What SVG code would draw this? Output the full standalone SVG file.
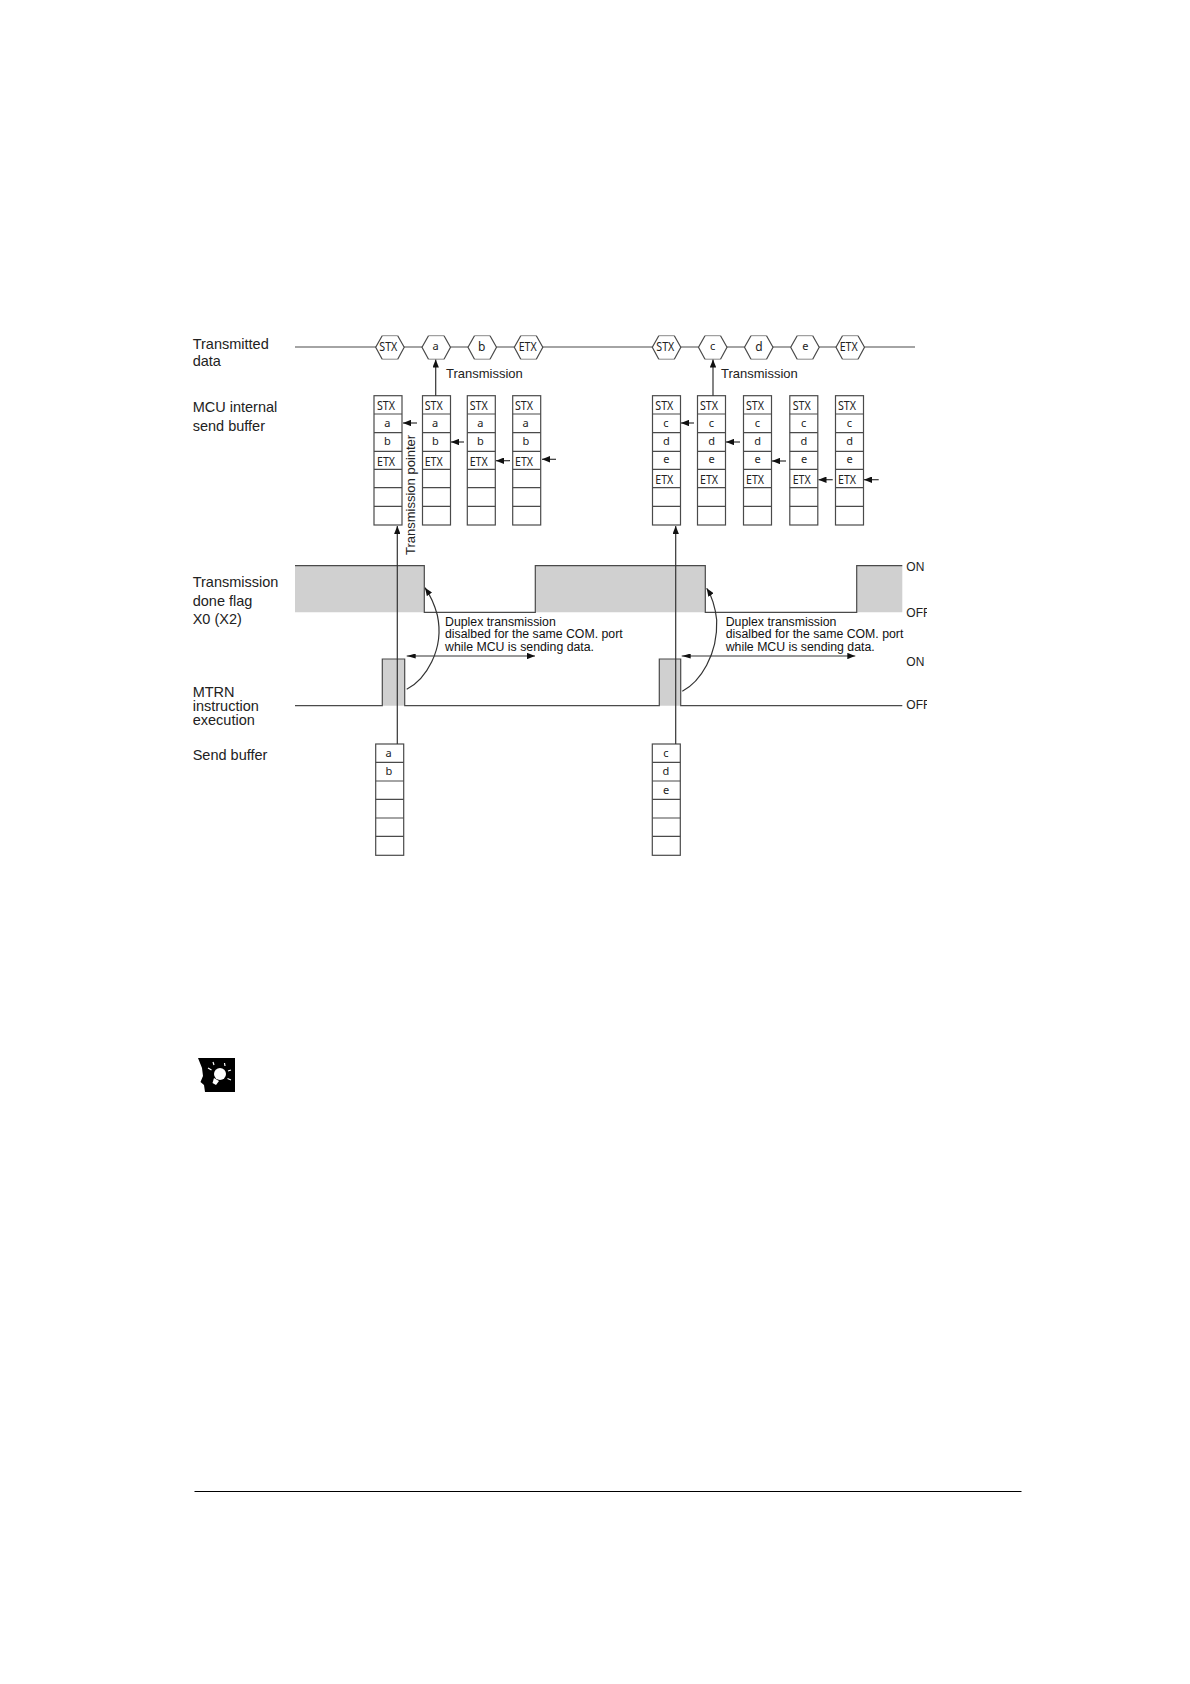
<svg xmlns="http://www.w3.org/2000/svg" width="1190" height="1684" viewBox="0 0 1190 1684">
<style>
.ln{fill:none;stroke:#4a4a4a;stroke-width:1.2}
.fill{fill:#d0d0d0;stroke:none}
.lb{font-family:"Liberation Sans",Arial,sans-serif;font-size:14.5px;fill:#222}
.md{font-family:"Liberation Sans",Arial,sans-serif;font-size:13px;fill:#222}
.sm{font-family:"Liberation Sans",Arial,sans-serif;font-size:12.3px;fill:#111}
.st{font-family:"Liberation Sans",Arial,sans-serif;font-size:12px;fill:#222}
.c{font-family:"Noto Sans",sans-serif;font-size:11px;fill:#222;text-anchor:middle}
.u{font-size:12px}
.ptr{fill:none;stroke:#333;stroke-width:1.2;marker-end:url(#ah)}
</style>
<defs>
<marker id="ah" markerUnits="userSpaceOnUse" viewBox="0 0 8 6.400" refX="8" refY="3.200" markerWidth="8" markerHeight="6.400" orient="auto"><path d="M0 0L8 3.200L0 6.400z" fill="#111"/></marker>
<marker id="as" markerUnits="userSpaceOnUse" viewBox="0 0 9 5" refX="0" refY="2.500" markerWidth="9" markerHeight="5" orient="auto"><path d="M0 2.500L9 0V5z" fill="#111"/></marker>
<g id="buf7"><rect class="ln" x="0" y="0" width="28" height="129.3"/><path class="ln" d="M0 18.3H28M0 37H28M0 55.6H28M0 73.6H28M0 92H28M0 110.6H28"/></g>
<g id="buf6"><rect class="ln" x="0" y="0" width="28" height="111.3"/><path class="ln" d="M0 18.3H28M0 37H28M0 55.3H28M0 74H28M0 92.3H28"/></g>
<g id="hex"><path d="M6.500 0H22M6.500 23.500H22" fill="none" stroke="#8a8a8a" stroke-width="1"/><path class="ln" d="M6.500 0L0 11.500L6.500 23.500M22 0L28.500 11.500L22 23.500"/></g>
<clipPath id="clipoff"><rect x="900" y="600" width="27" height="120"/></clipPath>
</defs>
<rect width="1190" height="1684" fill="#fff"/>

<g id="labels">
<text class="lb" x="192.7" y="349.3">Transmitted</text>
<text class="lb" x="192.7" y="366">data</text>
<text class="lb" x="192.7" y="412.3">MCU internal</text>
<text class="lb" x="192.7" y="430.7">send buffer</text>
<text class="lb" x="192.7" y="586.7">Transmission</text>
<text class="lb" x="192.7" y="606">done flag</text>
<text class="lb" x="192.7" y="624">X0 (X2)</text>
<text class="lb" x="192.7" y="697">MTRN</text>
<text class="lb" x="192.7" y="711">instruction</text>
<text class="lb" x="192.7" y="725">execution</text>
<text class="lb" x="192.7" y="760">Send buffer</text>
</g>

<g id="waveforms">
<path class="fill" d="M295 565.7H424.3V612.3H295Z"/>
<path class="fill" d="M535.3 565.7H705.3V612.3H535.3Z"/>
<path class="fill" d="M856.7 565.7H902.3V612.3H856.7Z"/>
<path class="fill" d="M382.3 659H404.7V705.7H382.3Z"/>
<path class="fill" d="M659.3 659H680.7V705.7H659.3Z"/>
<path class="ln" d="M295 565.7H424.3V612.3H535.3V565.7H705.3V612.3H856.7V565.7H902.3"/>
<path class="ln" d="M295 705.7H382.3V659H404.7V705.7H659.3V659H680.7V705.7H902.3"/>
<text class="st" x="906.3" y="570.7">ON</text>
<text class="st" x="906.3" y="616.7" clip-path="url(#clipoff)">OFF</text>
<text class="st" x="906.3" y="665.7">ON</text>
<text class="st" x="906.3" y="709.3" clip-path="url(#clipoff)">OFF</text>
</g>

<g id="hex-stx1"><use href="#hex" x="375.7" y="335.7"/><text class="c u" x="388.3" y="351" textLength="18" lengthAdjust="spacingAndGlyphs">STX</text></g>
<g id="hex-a"><use href="#hex" x="422" y="335.7"/><text class="c" x="435.7" y="349.5">a</text></g>
<g id="hex-b"><use href="#hex" x="468" y="335.7"/><text class="c u" x="481.7" y="351">b</text></g>
<g id="hex-etx1"><use href="#hex" x="514.3" y="335.7"/><text class="c u" x="527.7" y="351" textLength="18" lengthAdjust="spacingAndGlyphs">ETX</text></g>
<g id="hex-stx2"><use href="#hex" x="652.3" y="335.7"/><text class="c u" x="665.3" y="351" textLength="18" lengthAdjust="spacingAndGlyphs">STX</text></g>
<g id="hex-c"><use href="#hex" x="698.5" y="335.7"/><text class="c" x="712.7" y="349.5">c</text></g>
<g id="hex-d"><use href="#hex" x="744.5" y="335.7"/><text class="c u" x="759" y="351">d</text></g>
<g id="hex-e"><use href="#hex" x="790.7" y="335.7"/><text class="c" x="805.3" y="349.5">e</text></g>
<g id="hex-etx2"><use href="#hex" x="836" y="335.7"/><text class="c u" x="848.7" y="351" textLength="18" lengthAdjust="spacingAndGlyphs">ETX</text></g>

<g id="buffer-1"><use href="#buf7" x="374" y="395.7"/><text class="c u" x="386" y="410" textLength="18" lengthAdjust="spacingAndGlyphs">STX</text><text class="c" x="387.3" y="426.7">a</text><text class="c" x="387.3" y="445">b</text><text class="c u" x="386" y="465.5" textLength="18" lengthAdjust="spacingAndGlyphs">ETX</text></g>
<g id="buffer-2"><use href="#buf7" x="422.5" y="395.7"/><text class="c u" x="433.7" y="410" textLength="18" lengthAdjust="spacingAndGlyphs">STX</text><text class="c" x="435" y="426.7">a</text><text class="c" x="435.5" y="445">b</text><text class="c u" x="433.7" y="465.5" textLength="18" lengthAdjust="spacingAndGlyphs">ETX</text></g>
<g id="buffer-3"><use href="#buf7" x="467.3" y="395.7"/><text class="c u" x="478.7" y="410" textLength="18" lengthAdjust="spacingAndGlyphs">STX</text><text class="c" x="480.3" y="426.7">a</text><text class="c" x="480.3" y="445">b</text><text class="c u" x="478.7" y="465.5" textLength="18" lengthAdjust="spacingAndGlyphs">ETX</text></g>
<g id="buffer-4"><use href="#buf7" x="512.7" y="395.7"/><text class="c u" x="524" y="410" textLength="18" lengthAdjust="spacingAndGlyphs">STX</text><text class="c" x="525.7" y="426.7">a</text><text class="c" x="526" y="445">b</text><text class="c u" x="524" y="465.5" textLength="18" lengthAdjust="spacingAndGlyphs">ETX</text></g>

<g id="buffer-5"><use href="#buf7" x="652.5" y="395.7"/><text class="c u" x="664.3" y="410" textLength="18" lengthAdjust="spacingAndGlyphs">STX</text><text class="c" x="666" y="426.7">c</text><text class="c" x="666.5" y="445">d</text><text class="c" x="666.3" y="463.3">e</text><text class="c u" x="664.3" y="484" textLength="18" lengthAdjust="spacingAndGlyphs">ETX</text></g>
<g id="buffer-6"><use href="#buf7" x="697.5" y="395.7"/><text class="c u" x="709" y="410" textLength="18" lengthAdjust="spacingAndGlyphs">STX</text><text class="c" x="711.3" y="426.7">c</text><text class="c" x="711.7" y="445">d</text><text class="c" x="711.7" y="463.3">e</text><text class="c u" x="709" y="484" textLength="18" lengthAdjust="spacingAndGlyphs">ETX</text></g>
<g id="buffer-7"><use href="#buf7" x="743.5" y="395.7"/><text class="c u" x="755" y="410" textLength="18" lengthAdjust="spacingAndGlyphs">STX</text><text class="c" x="757.3" y="426.7">c</text><text class="c" x="757.7" y="445">d</text><text class="c" x="757.7" y="463.3">e</text><text class="c u" x="755" y="484" textLength="18" lengthAdjust="spacingAndGlyphs">ETX</text></g>
<g id="buffer-8"><use href="#buf7" x="789.8" y="395.7"/><text class="c u" x="801.7" y="410" textLength="18" lengthAdjust="spacingAndGlyphs">STX</text><text class="c" x="803.7" y="426.7">c</text><text class="c" x="804" y="445">d</text><text class="c" x="804" y="463.3">e</text><text class="c u" x="801.7" y="484" textLength="18" lengthAdjust="spacingAndGlyphs">ETX</text></g>
<g id="buffer-9"><use href="#buf7" x="835.5" y="395.7"/><text class="c u" x="847" y="410" textLength="18" lengthAdjust="spacingAndGlyphs">STX</text><text class="c" x="849.3" y="426.7">c</text><text class="c" x="849.7" y="445">d</text><text class="c" x="849.7" y="463.3">e</text><text class="c u" x="847" y="484" textLength="18" lengthAdjust="spacingAndGlyphs">ETX</text></g>

<g id="send-buffer-1"><use href="#buf6" x="375.7" y="744"/><text class="c" x="388.7" y="757">a</text><text class="c" x="389" y="775">b</text></g>
<g id="send-buffer-2"><use href="#buf6" x="652.3" y="744"/><text class="c" x="666" y="757">c</text><text class="c" x="666" y="775">d</text><text class="c" x="666" y="794">e</text></g>

<g id="connectors">
<path class="ln" d="M295 347H376M404 347H422M450.500 347H468M496.500 347H514.300M542.800 347H652.300M680.800 347H698.500M727 347H744.500M773 347H790.700M819.200 347H836M864.500 347H915"/>
<path class="ptr" d="M435.700 395.700V359.500"/>
<path class="ptr" d="M713 395.700V359.500"/>
<path class="ptr" d="M397.300 744V526"/>
<path class="ptr" d="M675.700 744V526"/>
<path class="ptr" d="M417 423H403"/>
<path class="ptr" d="M464 442H451"/>
<path class="ptr" d="M510 460.700H496"/>
<path class="ptr" d="M556 459.300H542"/>
<path class="ptr" d="M694 423H681"/>
<path class="ptr" d="M740 442H726"/>
<path class="ptr" d="M786 461H772"/>
<path class="ptr" d="M832.700 479.700H818.500"/>
<path class="ptr" d="M878.700 479.700H864"/>
<path class="ptr" style="marker-start:url(#as)" d="M406.700 656H535"/>
<path class="ptr" style="marker-start:url(#as)" d="M681.700 656H855.300"/>
<path class="ptr" d="M406.700 689.300C425 680 445 650 437.300 615C434 603 430 595 425 587.700"/>
<path class="ptr" d="M682.300 691.300C700 682 718 655 716.700 620C715 605 711 595 706.700 588.300"/>
</g>

<g id="annotations">
<text class="md" x="446" y="378.300">Transmission</text>
<text class="md" x="721" y="378.300">Transmission</text>
<text class="md" transform="translate(415.300 555) rotate(-90)">Transmission pointer</text>
<text class="sm" x="445" y="626">Duplex transmission</text>
<text class="sm" x="445" y="638.300">disalbed for the same COM. port</text>
<text class="sm" x="445" y="651.300">while MCU is sending data.</text>
<text class="sm" x="725.700" y="626">Duplex transmission</text>
<text class="sm" x="725.700" y="638.300">disalbed for the same COM. port</text>
<text class="sm" x="725.700" y="651.300">while MCU is sending data.</text>
</g>

<g id="hint-icon">
<path fill="#000" d="M198 1058H235V1092H205L204 1085L200.500 1082L203 1076L202 1068Z"/>
<circle cx="220" cy="1074" r="6" fill="#fff"/>
<path fill="#fff" d="M214 1078L219 1081L216 1085L212.500 1083Z"/>
<path fill="none" stroke="#fff" stroke-width="1.200" d="M214 1065L213 1062M224.500 1063L225 1066M231 1070L228 1071M231 1080L227.500 1078.500M208 1068L211.500 1070"/>
</g>

<path id="footer-rule" d="M194.500 1491.500H1021.500" stroke="#000" stroke-width="1" fill="none"/>
</svg>
